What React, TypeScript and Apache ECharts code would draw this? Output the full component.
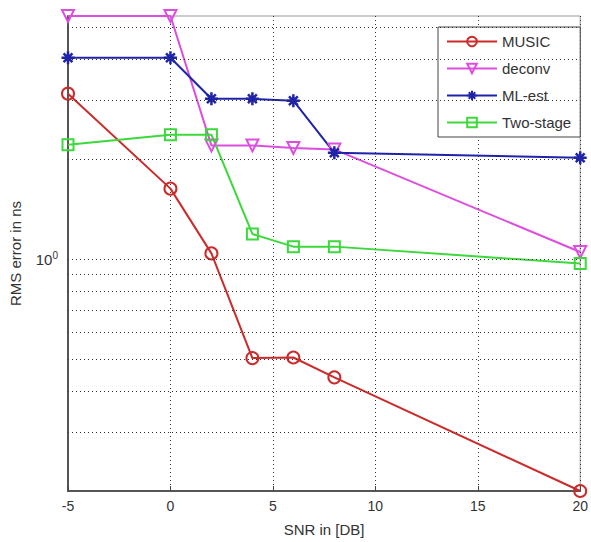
import React, { useEffect, useRef } from "react";
import * as echarts from "echarts";

const snr = [-5, 0, 2, 4, 6, 8, 20];
const musicValues = [3.15, 1.63, 1.04, 0.503, 0.505, 0.44, 0.2];
const deconvValues = [5.4, 5.4, 2.2, 2.2, 2.16, 2.14, 1.05];
const mlEstValues = [4.04, 4.04, 3.04, 3.04, 3.0, 2.09, 2.02];
const twoStageValues = [2.21, 2.37, 2.37, 1.19, 1.09, 1.09, 0.97];
const yGridValues = [0.3, 0.4, 0.5, 0.6, 0.7, 0.8, 0.9, 1, 2, 3, 4, 5];
const seriesNames = ["MUSIC", "deconv", "ML-est", "Two-stage"];

const FONT = "'Liberation Sans', Arial, Helvetica, sans-serif";
const STAR = "path://M5,0L5,10M0,5L10,5M1.6,1.6L8.4,8.4M1.6,8.4L8.4,1.6";

function pairs(values: number[]) {
  return snr.map((x, i) => [x, values[i]]);
}

export default function App() {
  const ref = useRef<HTMLDivElement>(null);
  useEffect(() => {
    document.body.style.margin = "0";
    if (!ref.current) return;
    const chart = echarts.init(ref.current, undefined, { renderer: "svg" });
    const mk = (
      name: string,
      values: number[],
      color: string,
      symbol: string,
      size: number,
      extra: any = {}
    ) => ({
      name,
      type: "line",
      data: pairs(values),
      z: 3,
      symbol,
      symbolSize: size,
      lineStyle: { color, width: 2 },
      itemStyle: { color: "transparent", borderColor: color, borderWidth: 2 },
      ...extra,
    });
    chart.setOption({
      animation: false,
      backgroundColor: "#ffffff",
      textStyle: { fontFamily: FONT },
      grid: {
        left: 63,
        right: 8,
        top: 16,
        bottom: 51,
        show: true,
        borderColor: "#999",
        borderWidth: 1,
      },
      legend: {
        data: seriesNames,
        orient: "vertical",
        left: 438,
        top: 27,
        backgroundColor: "#ffffff",
        borderColor: "#444",
        borderWidth: 1,
        padding: [7, 9, 7, 8],
        itemGap: 12,
        itemWidth: 50,
        itemHeight: 12,
        textStyle: { fontSize: 15, color: "#333", fontFamily: FONT },
      },
      xAxis: {
        type: "value",
        min: -5,
        max: 20,
        interval: 5,
        name: "SNR in [DB]",
        nameLocation: "middle",
        nameGap: 31,
        nameTextStyle: { fontSize: 15, color: "#333", fontFamily: FONT },
        axisLine: { show: true, onZero: false, lineStyle: { color: "#555", width: 2 } },
        axisTick: { show: true, inside: true, length: 5, lineStyle: { color: "#444" } },
        axisLabel: { fontSize: 14, color: "#333", margin: 8, fontFamily: FONT },
        splitLine: { show: true, lineStyle: { color: "#333", type: [1, 3], width: 1 } },
      },
      yAxis: {
        type: "log",
        logBase: 10,
        min: 0.2,
        max: 5.4,
        name: "RMS error in ns",
        nameLocation: "middle",
        nameGap: 45,
        nameTextStyle: { fontSize: 15, color: "#333", fontFamily: FONT },
        axisLine: { show: true, onZero: false, lineStyle: { color: "#555", width: 2 } },
        axisTick: { show: false },
        splitLine: { show: false },
        minorSplitLine: { show: false },
        axisLabel: {
          margin: 10,
          color: "#333",
          formatter: (v: number) => (Math.abs(v - 1) < 1e-6 ? "{a|10}{b|0}" : ""),
          rich: {
            a: { fontSize: 15, color: "#333", fontFamily: FONT, lineHeight: 18 },
            b: { fontSize: 10, color: "#333", fontFamily: FONT, lineHeight: 10, verticalAlign: "top" },
          },
        },
      },
      series: [
        {
          name: "grid",
          type: "line",
          data: [],
          z: 1,
          silent: true,
          markLine: {
            silent: true,
            symbol: "none",
            label: { show: false },
            lineStyle: { color: "#333", type: [1, 3], width: 1 },
            data: yGridValues.map((v) => ({ yAxis: v })),
          },
        },
        mk("MUSIC", musicValues, "#cc2b2b", "circle", 12),
        mk("deconv", deconvValues, "#dd4ee0", "triangle", 12, { symbolRotate: 180 }),
        mk("ML-est", mlEstValues, "#1f23a8", STAR, 13, {
          itemStyle: { color: "#1f23a8", borderColor: "#1f23a8", borderWidth: 2.5 },
        }),
        mk("Two-stage", twoStageValues, "#3cd83c", "rect", 11),
      ],
    });
    return () => chart.dispose();
  }, []);
  return <div ref={ref} style={{ width: 591, height: 542 }} />;
}
